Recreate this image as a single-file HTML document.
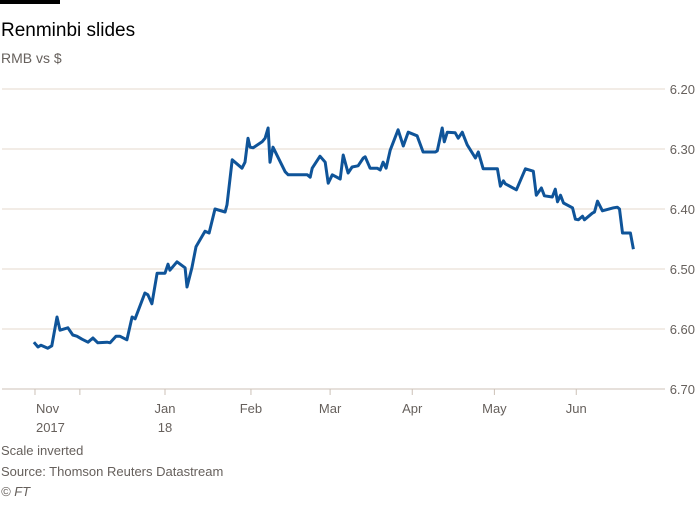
<!DOCTYPE html>
<html><head><meta charset="utf-8"><style>
body{margin:0;background:#fff;font-family:"Liberation Sans",sans-serif;}
svg text{font-family:"Liberation Sans",sans-serif;}
</style></head><body>
<svg width="700" height="500">
<rect x="0" y="0" width="60" height="4" fill="#000"/>
<text x="1" y="36" font-size="19" fill="#000">Renminbi slides</text>
<text x="1" y="63" font-size="14" fill="#66605c">RMB vs $</text>
<g id="grid"></g><g id="xaxis"></g>
<path id="line" fill="none" stroke="#0f5499" stroke-width="3" stroke-linejoin="round"/>
<text x="1" y="455" font-size="13" fill="#66605c">Scale inverted</text>
<text x="1" y="476" font-size="13" fill="#66605c">Source: Thomson Reuters Datastream</text>
<text x="1" y="496" font-size="13" font-style="italic" fill="#66605c">© FT</text>
</svg>
<script>
const days=[-48.2,-46.7,-45.6,-43.1,-41.6,-39.7,-38.6,-35.7,-33.9,-32.4,-30.5,-28.3,-26.5,-24.7,-21.3,-20.2,-18.0,-16.6,-14.0,-12.1,-11.0,-7.4,-6.3,-4.8,-2.9,0,1.1,1.8,4.4,7.4,8.1,9.9,11.4,14.7,16.2,18.4,22.1,22.8,24.7,28.3,29.4,30.5,31.3,32.4,35.7,36.8,37.9,38.6,39.7,44.2,45.3,52.3,53.4,54.1,57.0,58.9,60.0,61.5,64.4,65.5,67.3,68.8,71.0,72.9,73.6,75.4,78.0,79.1,80.2,81.3,82.8,85.7,87.6,89.4,92.7,94.9,99.4,100.1,101.9,102.7,103.8,106.7,107.8,109.3,109.7,111.1,114.1,115.2,117.0,122.2,123.3,124.4,125.1,129.2,132.5,135.4,136.5,138.4,139.5,142.4,143.5,144.3,145.4,146.5,149.8,150.9,152.0,153.5,154.2,157.1,157.9,159.0,160.8,164.9,166.3,167.1,168.2,171.1,172.2];
const rates=[6.622,6.630,6.627,6.632,6.628,6.580,6.602,6.598,6.610,6.612,6.617,6.622,6.615,6.623,6.622,6.623,6.612,6.612,6.618,6.580,6.583,6.540,6.543,6.558,6.507,6.507,6.492,6.502,6.488,6.498,6.530,6.498,6.463,6.437,6.440,6.400,6.405,6.393,6.318,6.332,6.322,6.282,6.297,6.298,6.288,6.282,6.265,6.322,6.297,6.338,6.343,6.343,6.347,6.332,6.312,6.322,6.357,6.343,6.350,6.310,6.340,6.330,6.328,6.315,6.313,6.332,6.332,6.335,6.322,6.332,6.302,6.268,6.295,6.272,6.278,6.305,6.305,6.303,6.265,6.288,6.272,6.273,6.282,6.272,6.277,6.293,6.315,6.305,6.333,6.333,6.362,6.353,6.358,6.368,6.333,6.337,6.377,6.365,6.378,6.380,6.367,6.388,6.377,6.390,6.398,6.417,6.418,6.412,6.418,6.407,6.405,6.387,6.403,6.398,6.397,6.400,6.440,6.440,6.467];
const yTicks=[6.2,6.3,6.4,6.5,6.6,6.7];
const yTickLabels=["6.20","6.30","6.40","6.50","6.60","6.70"];
const xTickDays=[-47.8,-31.3,0,31.6,60.7,90.9,121.1,151.2];
const xTickLabels=["Nov","","Jan","Feb","Mar","Apr","May","Jun"];
const xTickLabels2=["2017","","18","","","","",""];
const NS="http://www.w3.org/2000/svg";
function xs(d){return 165+d*2.72;}
function ys(v){return 89+(v-6.2)*600;}
function mk(t,a,p){const e=document.createElementNS(NS,t);for(const k in a)e.setAttribute(k,a[k]);p.appendChild(e);return e;}
const grid=document.getElementById('grid');
yTicks.forEach((v,i)=>{
  const l=mk('line',{x1:2,x2:665,y1:ys(v),y2:ys(v),stroke:i==yTicks.length-1?'#ccc1b7':'#e6d9ce','stroke-width':1},grid);
  
  
  const t=mk('text',{x:695,y:ys(v)+5,'text-anchor':'end','font-size':13,fill:'#66605c'},grid);
  t.textContent=yTickLabels[i];
  
  
});
const xa=document.getElementById('xaxis');
xTickDays.forEach((d,i)=>{
  const x=xs(d);
  const l=mk('line',{x1:x,x2:x,y1:ys(6.7),y2:ys(6.7)+6,stroke:'#ccc1b7','stroke-width':1},xa);
  
  
  const anchor=i==0?'start':'middle';
  if(xTickLabels[i]){
    const t=mk('text',{x:i==0?x+1:x,y:413,'text-anchor':anchor,'font-size':13,fill:'#66605c'},xa);
    t.textContent=xTickLabels[i];
    
    
  }
  if(xTickLabels2[i]){
    const t=mk('text',{x:i==0?x+1:x,y:432,'text-anchor':anchor,'font-size':13,fill:'#66605c'},xa);
    t.textContent=xTickLabels2[i];
    
    
  }
});
document.getElementById('line').setAttribute('d',days.map((d,i)=>(i?'L':'M')+xs(d).toFixed(1)+','+ys(rates[i]).toFixed(1)).join(''));
</script>
</body></html>
